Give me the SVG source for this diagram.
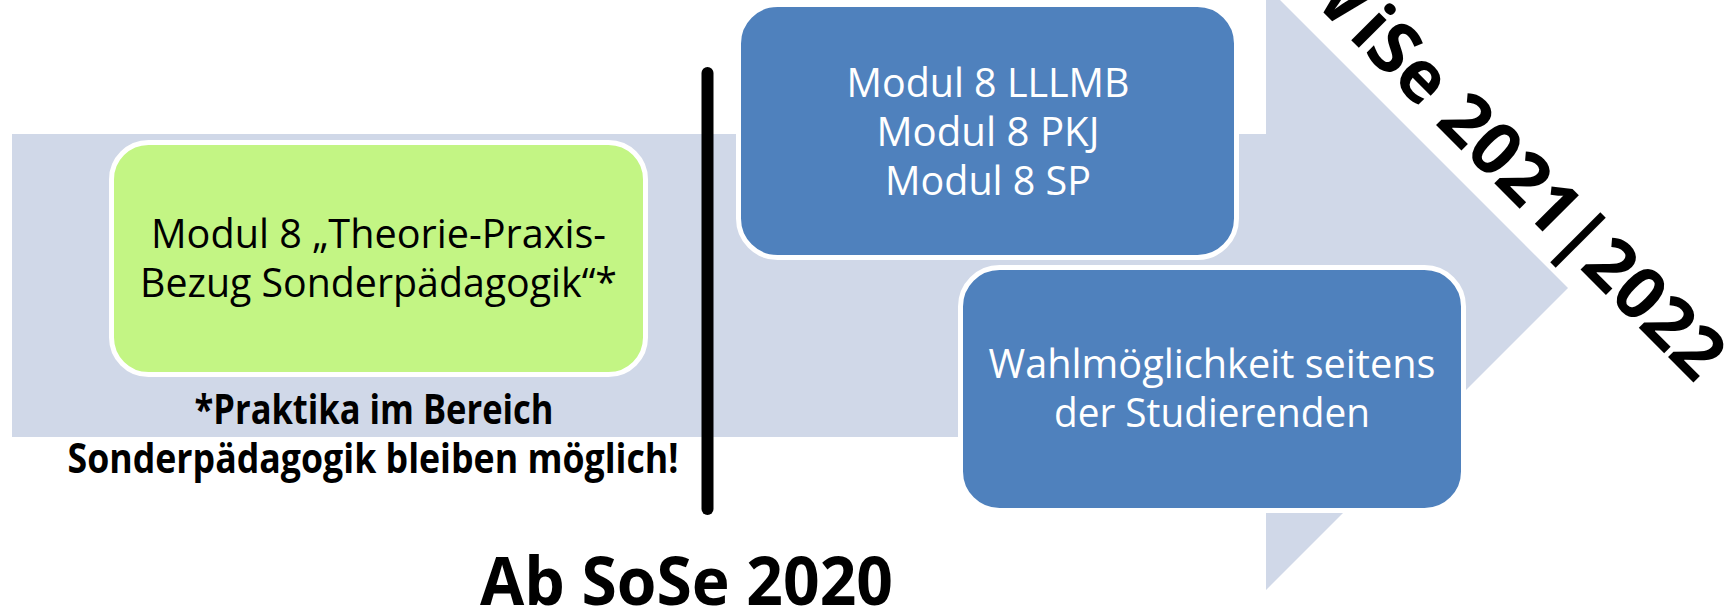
<svg xmlns="http://www.w3.org/2000/svg" width="1728" height="610" viewBox="0 0 1728 610">
  <style>
    .box { stroke: #FFFFFF; stroke-width: 5; }
    .green { fill: #C3F584; }
    .blue { fill: #4F81BD; }
    .t { font-family: "Open Sans", "Liberation Sans", sans-serif; font-size: 40.5px; text-anchor: middle; }
    .dark { fill: #000000; }
    .light { fill: #FFFFFF; }
    .bold { font-weight: 700; }
  </style>
  <rect x="0" y="0" width="1728" height="610" fill="#FFFFFF"/>
  <g id="background">
    <path id="big-arrow" d="M12,134 H1266 V-14 L1568,288 L1266,590 V437 H12 Z" fill="#D0D8E8"/>
  </g>
  <g id="divider">
    <line x1="707.5" y1="73" x2="707.5" y2="509" stroke="#000000" stroke-width="12" stroke-linecap="round"/>
  </g>
  <g id="connectors"></g>
  <g id="node-modul8-sonderpaedagogik">
    <rect class="box green" x="111.5" y="142.5" width="534" height="232" rx="37" ry="37"/>
    <text class="t dark" x="378.5" y="248" textLength="455" lengthAdjust="spacingAndGlyphs">Modul 8 „Theorie-Praxis-</text>
    <text class="t dark" x="378.5" y="297" textLength="477" lengthAdjust="spacingAndGlyphs">Bezug Sonderpädagogik“*</text>
  </g>
  <g id="note-praktika">
    <text class="t dark bold" x="374" y="424" textLength="359" lengthAdjust="spacingAndGlyphs">*Praktika im Bereich</text>
    <text class="t dark bold" x="373" y="473" textLength="611" lengthAdjust="spacingAndGlyphs">Sonderpädagogik bleiben möglich!</text>
  </g>
  <g id="node-modul8-varianten">
    <rect class="box blue" x="738.5" y="4.5" width="498" height="253" rx="39" ry="39"/>
    <text class="t light" x="988" y="97" textLength="283" lengthAdjust="spacingAndGlyphs">Modul 8 LLLMB</text>
    <text class="t light" x="988" y="146" textLength="223" lengthAdjust="spacingAndGlyphs">Modul 8 PKJ</text>
    <text class="t light" x="988" y="195" textLength="206" lengthAdjust="spacingAndGlyphs">Modul 8 SP</text>
  </g>
  <g id="node-wahlmoeglichkeit">
    <rect class="box blue" x="960.5" y="267.5" width="503" height="243" rx="39" ry="39"/>
    <text class="t light" x="1212" y="378" textLength="447" lengthAdjust="spacingAndGlyphs">Wahlmöglichkeit seitens</text>
    <text class="t light" x="1212" y="427" textLength="316" lengthAdjust="spacingAndGlyphs">der Studierenden</text>
  </g>
  <g id="label-ab-sose-2020">
    <text class="t dark bold" x="686.5" y="605" style="font-size:66px" textLength="413" lengthAdjust="spacingAndGlyphs">Ab SoSe 2020</text>
  </g>
  <g id="label-wise-2021-2022">
    <text class="t dark bold" transform="translate(1695,384) rotate(45)" x="0" y="0" style="font-size:72px; text-anchor:end"><tspan>W</tspan><tspan dx="8">iSe 2021|2022</tspan></text>
  </g>
</svg>
